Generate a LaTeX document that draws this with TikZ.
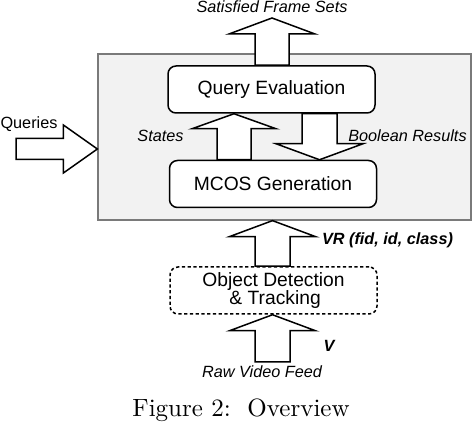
\documentclass[tikz,border=0pt]{standalone}
\usepackage{fontspec}
\newfontfamily\arialf{Liberation Sans}
\usetikzlibrary{calc}
\definecolor{panelgray}{HTML}{F2F2F2}
\definecolor{panelline}{HTML}{7A7A7A}
\tikzset{
  blk/.style={draw=black, fill=white, line width=0.6pt, line join=miter},
  procbox/.style={draw, rounded corners=3.2pt, line width=0.6pt, fill=white,
    minimum width=82.8pt, minimum height=18.8pt, inner sep=0pt,
    font=\arialf\fontsize{7.7}{9.2}\selectfont, align=center},
  panel/.style={draw=panelline, fill=panelgray, line width=0.5pt,
    minimum width=149.2pt, minimum height=66.4pt, inner sep=0pt},
  lbl/.style={font=\arialf\itshape\fontsize{6.5}{8}\selectfont, inner sep=0pt},
  lblb/.style={font=\arialf\bfseries\itshape\fontsize{6.5}{8}\selectfont, inner sep=0pt},
  lblu/.style={font=\arialf\fontsize{6.5}{8}\selectfont, inner sep=0pt},
}
% vertical block arrow: #1 from, #2 to, #3 half shaft, #4 half head, #5 head length, #6 dir (1 up, -1 down)
\newcommand\vblk[6]{%
  \draw[blk] let \p1=(#1), \p2=(#2) in
    ({\x1-#3},{\y1}) -- ({\x1-#3},{\y2-(#6)*#5}) -- ({\x1-#4},{\y2-(#6)*#5}) -- ({\x1},{\y2})
    -- ({\x1+#4},{\y2-(#6)*#5}) -- ({\x1+#3},{\y2-(#6)*#5}) -- ({\x1+#3},{\y1}) -- cycle;}
% horizontal block arrow to the right
\newcommand\hblk[5]{%
  \draw[blk] let \p1=(#1), \p2=(#2) in
    ({\x1},{\y1-#3}) -- ({\x2-#5},{\y1-#3}) -- ({\x2-#5},{\y1-#4}) -- ({\x2},{\y1})
    -- ({\x2-#5},{\y1+#4}) -- ({\x2-#5},{\y1+#3}) -- ({\x1},{\y1+#3}) -- cycle;}
\begin{document}
\begin{tikzpicture}[x=0.4pt, y=-0.4pt]
\useasboundingbox (0,0) rectangle (472,424);
% panel
\node[panel] (main) at (284.5,137) {};
% process boxes
\node[procbox] (qe) at (271.5,89.5) {Query Evaluation};
\node[procbox] (mcos) at (273,184) {MCOS Generation};
\node[procbox, dash pattern=on 1.3pt off 1pt] (od) at (273.5,290.5) {Object Detection\\[-2pt]\,\& Tracking};
% helper coordinates
\coordinate (top) at (272,18);
\coordinate (scol) at (234,0);
\coordinate (bcol) at (319.5,0);
\coordinate (vcol) at (272.5,0);
\coordinate (raw) at (272.5,362);
\coordinate (qin) at (16,149);
% block arrows
\vblk{qe.north -| top}{top}{6.8pt}{17.2pt}{6.4pt}{1}
\vblk{mcos.north -| scol}{qe.south -| scol}{6.8pt}{16.8pt}{6.0pt}{1}
\vblk{qe.south -| bcol}{mcos.north -| bcol}{7.0pt}{17.4pt}{6.4pt}{-1}
\vblk{od.north -| vcol}{main.south -| vcol}{7.0pt}{17.2pt}{6.4pt}{1}
\vblk{raw}{od.south -| raw}{7.0pt}{17.2pt}{6.4pt}{1}
\hblk{qin}{main.west |- qin}{4.2pt}{9.6pt}{13.6pt}
% labels
\node[lbl] (lsfs) at (272,7) {Satisfied Frame Sets};
\node[lbl] (lst) at (160.5,136) {States};
\node[lbl] (lbr) at (407.5,136) {Boolean Results};
\node[lblu] (lq) at (29,124) {Queries};
\node[lblb] (lvr) at (387.5,240) {VR (fid, id, class)};
\node[lblb] (lv) at (329,346) {V};
\node[lbl] (lraw) at (262,372) {Raw Video Feed};
\node[inner sep=0pt] (cap) at (241,410) {\fontsize{10}{12}\selectfont Figure 2:\ \ Overview};
\end{tikzpicture}
\end{document}
